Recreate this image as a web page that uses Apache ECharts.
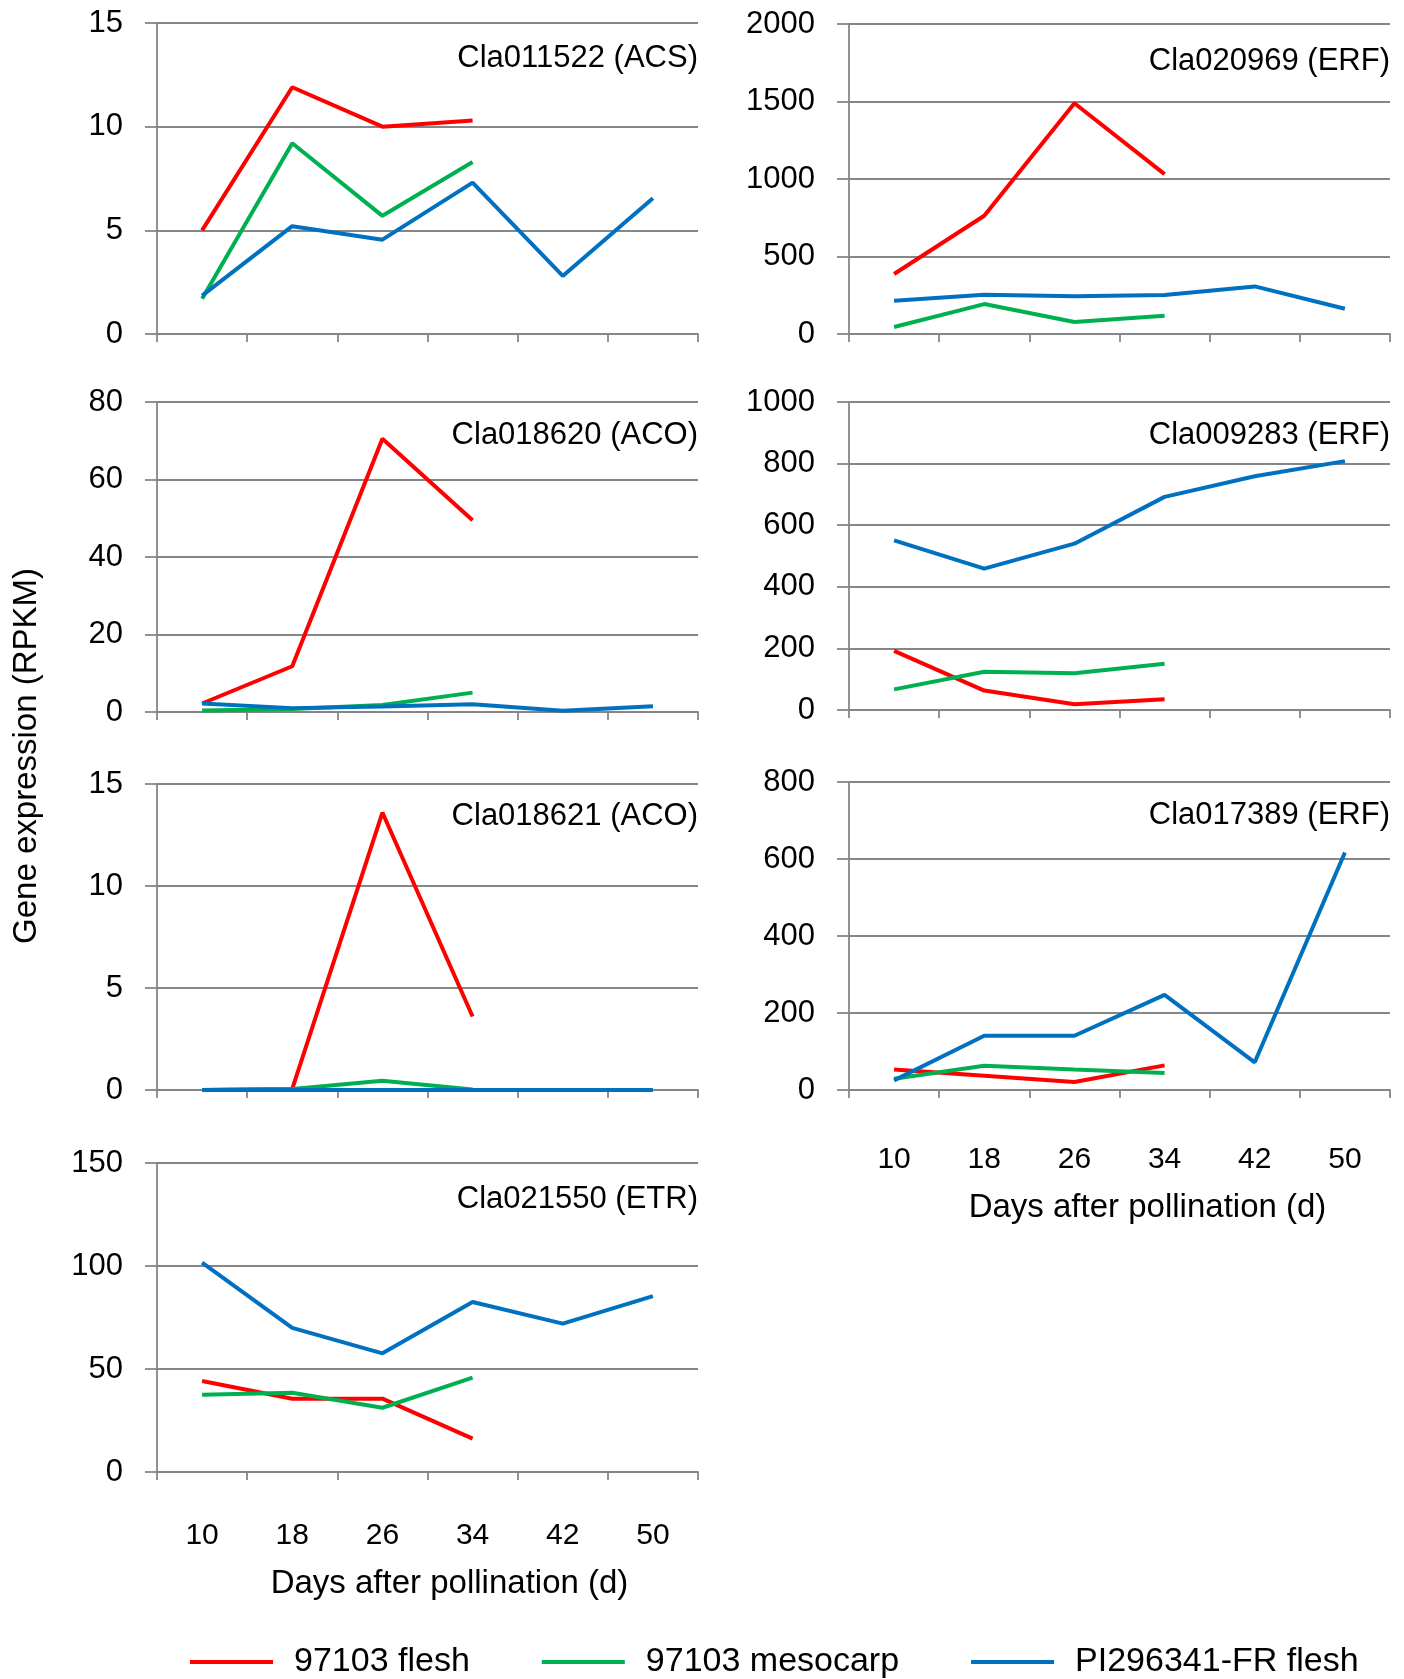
<!DOCTYPE html>
<html>
<head>
<meta charset="utf-8">
<script src="https://cdn.jsdelivr.net/npm/echarts@6.0.0/dist/echarts.min.js"></script>
<style>
  html, body { margin: 0; padding: 0; background: #fff; }
  #chart { width: 1404px; height: 1679px; }
</style>
</head>
<body>
<div id="chart"></div>
<script>
const days = ['10', '18', '26', '34', '42', '50']
const seriesNames = ['97103 flesh', '97103 mesocarp', 'PI296341-FR flesh']
const seriesColors = ['#ff0000', '#00b050', '#0070c0']

const geneNames = [
  'Cla011522 (ACS)', 'Cla020969 (ERF)',
  'Cla018620 (ACO)', 'Cla009283 (ERF)',
  'Cla018621 (ACO)', 'Cla017389 (ERF)',
  'Cla021550 (ETR)'
]
const yMax = [15, 2000, 80, 1000, 15, 800, 150]
const yStep = [5, 500, 20, 200, 5, 200, 50]

// 97103 flesh / 97103 mesocarp only sampled to 34 d
const acsFlesh = [5.0, 11.9, 10.0, 10.3]
const acsMeso = [1.7, 9.2, 5.7, 8.3]
const acsPI = [1.85, 5.2, 4.55, 7.3, 2.8, 6.55]

const erf020969Flesh = [387, 763, 1489, 1031]
const erf020969Meso = [45, 193, 77, 118]
const erf020969PI = [215, 253, 243, 251, 307, 163]

const aco018620Flesh = [2.2, 11.8, 70.5, 49.5]
const aco018620Meso = [0.4, 0.8, 1.8, 5.0]
const aco018620PI = [2.2, 1.0, 1.4, 2.0, 0.3, 1.5]

const erf009283Flesh = [192, 63, 19, 35]
const erf009283Meso = [67, 124, 119, 150]
const erf009283PI = [551, 459, 540, 692, 759, 808]

const aco018621Flesh = [0, 0.05, 13.6, 3.6]
const aco018621Meso = [0, 0.05, 0.45, 0.02]
const aco018621PI = [0, 0, 0, 0, 0, 0]

const erf017389Flesh = [53, 37, 21, 64]
const erf017389Meso = [29, 63, 53, 44]
const erf017389PI = [25, 141, 141, 247, 72, 617]

const etrFlesh = [44.2, 35.6, 35.6, 16.2]
const etrMeso = [37.5, 38.5, 31.2, 45.8]
const etrPI = [101.6, 70, 57.6, 82.5, 72, 85.4]

const panelData = [
  [acsFlesh, acsMeso, acsPI],
  [erf020969Flesh, erf020969Meso, erf020969PI],
  [aco018620Flesh, aco018620Meso, aco018620PI],
  [erf009283Flesh, erf009283Meso, erf009283PI],
  [aco018621Flesh, aco018621Meso, aco018621PI],
  [erf017389Flesh, erf017389Meso, erf017389PI],
  [etrFlesh, etrMeso, etrPI]
]

// layout: plot boxes in px
const panels = [
  { left: 157, top: 23, width: 541, height: 311, titleTop: 43 },
  { left: 849, top: 24, width: 541, height: 310, titleTop: 46 },
  { left: 157, top: 402, width: 541, height: 310, titleTop: 420 },
  { left: 849, top: 402, width: 541, height: 308, titleTop: 420 },
  { left: 157, top: 784, width: 541, height: 306, titleTop: 801 },
  { left: 849, top: 782, width: 541, height: 308, titleTop: 800, labels: { margin: 55, nameGap: 101, shift: 56 } },
  { left: 157, top: 1163, width: 541, height: 309, titleTop: 1184, labels: { margin: 49, nameGap: 95, shift: 44 } }
]

const FONT = "'Liberation Sans', Arial, sans-serif"
const GRID_GRAY = '#868686'

const chart = echarts.init(document.getElementById('chart'), null, { renderer: 'canvas' })

const option = {
  animation: false,
  backgroundColor: '#ffffff',
  textStyle: { fontFamily: FONT, color: '#000' },
  title: panels.map((p, i) => ({
    text: geneNames[i],
    right: 1404 - (p.left + p.width),
    top: p.titleTop,
    padding: 0,
    textStyle: { fontFamily: FONT, fontSize: 31, fontWeight: 'normal', color: '#000' }
  })),
  legend: {
    data: seriesNames,
    left: 190,
    top: 1645,
    padding: 0,
    itemGap: 72,
    itemWidth: 83,
    itemHeight: 4,
    icon: 'rect',
    textStyle: { fontFamily: FONT, fontSize: 34, color: '#000', padding: [0, 0, 0, 16] }
  },
  grid: panels.map((p) => ({
    left: p.left, top: p.top, width: p.width, height: p.height,
    containLabel: false, outerBoundsMode: 'none'
  })),
  xAxis: panels.map((p, i) => ({
    type: 'category',
    gridIndex: i,
    data: days,
    boundaryGap: true,
    axisLine: { show: true, lineStyle: { color: GRID_GRAY, width: 1.8 } },
    axisTick: { show: true, length: 8, alignWithLabel: false, lineStyle: { color: GRID_GRAY, width: 1.8 } },
    axisLabel: p.labels
      ? { show: true, margin: p.labels.margin, fontFamily: FONT, fontSize: 30, color: '#000' }
      : { show: false },
    name: p.labels ? 'Days after pollination (d)' : '',
    nameLocation: 'middle',
    nameGap: p.labels ? p.labels.nameGap : 0,
    nameTextStyle: p.labels
      ? { fontFamily: FONT, fontSize: 33, color: '#000', padding: [0, 0, 0, p.labels.shift] }
      : {}
  })),
  yAxis: panels.map((p, i) => ({
    type: 'value',
    gridIndex: i,
    min: 0,
    max: yMax[i],
    interval: yStep[i],
    axisLine: { show: true, lineStyle: { color: GRID_GRAY, width: 1.8 } },
    axisTick: { show: true, length: 12, lineStyle: { color: GRID_GRAY, width: 1.8 } },
    axisLabel: {
      margin: 34, fontFamily: FONT, fontSize: 31, color: '#000',
      formatter: (v) => String(v)
    },
    splitLine: { show: true, lineStyle: { color: GRID_GRAY, width: 1.8 } }
  })),
  graphic: [{
    type: 'text',
    left: 10,
    top: 568,
    rotation: Math.PI / 2,
    style: {
      text: 'Gene expression (RPKM)',
      font: '33px ' + FONT,
      fill: '#000'
    }
  }],
  series: panelData.flatMap((group, i) => group.map((values, k) => ({
    name: seriesNames[k],
    type: 'line',
    xAxisIndex: i,
    yAxisIndex: i,
    data: values,
    showSymbol: false,
    symbol: 'none',
    lineStyle: { color: seriesColors[k], width: 4 },
    itemStyle: { color: seriesColors[k] },
    z: 3 + k
  })))
}

chart.setOption(option)
</script>
</body>
</html>
